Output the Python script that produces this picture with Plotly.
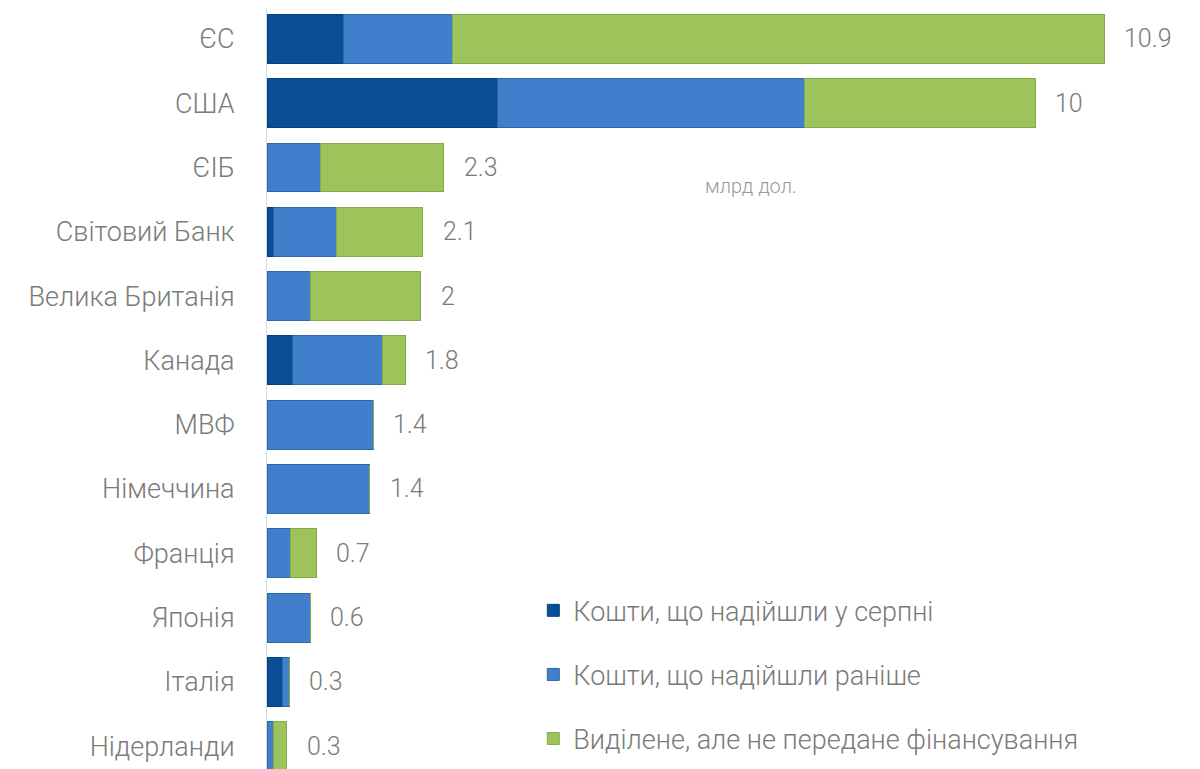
import plotly.graph_objects as go

# Donors, top to bottom
categories = ["ЄС", "США", "ЄІБ", "Світовий Банк", "Велика Британія", "Канада",
              "МВФ", "Німеччина", "Франція", "Японія", "Італія", "Нідерланди"]

# billions USD
august = [1.0, 3.0, 0, 0.09, 0, 0.33, 0, 0, 0, 0, 0.2, 0]
earlier = [1.42, 4.0, 0.69, 0.82, 0.56, 1.17, 1.38, 1.34, 0.3, 0.56, 0.09, 0.08]
pending = [8.48, 3.0, 1.61, 1.12, 1.44, 0.3, 0, 0, 0.34, 0, 0, 0.18]
total_labels = ["10.9", "10", "2.3", "2.1", "2", "1.8", "1.4", "1.4", "0.7", "0.6", "0.3", "0.3"]

series = [
    ("Кошти, що надійшли у серпні", august, "#0b4e98", "#083f7c"),
    ("Кошти, що надійшли раніше", earlier, "#3f7fcc", "#2f66a8"),
    ("Виділене, але не передане фінансування", pending, "#9cc45b", "#84ad47"),
]

FONT = "Roboto"
GREY = "#7a7a7a"

fig = go.Figure()
for i, (name, vals, col, edge) in enumerate(series):
    fig.add_trace(go.Bar(
        y=categories, x=vals, name=name, orientation="h",
        marker=dict(color=col, line=dict(color=edge, width=1)),
        legendgroup=f"g{i}", hoverinfo="x+name",
    ))

# rounded totals printed right of each bar
totals = [a + b + c for a, b, c in zip(august, earlier, pending)]
for cat, tot, lab in zip(categories, totals, total_labels):
    fig.add_annotation(x=tot, y=cat, text=lab, showarrow=False,
                       xanchor="left", xshift=18,
                       font=dict(family=FONT, size=25, color=GREY, weight=300))

fig.add_annotation(text="млрд дол.", xref="paper", yref="paper",
                   x=0.514, y=0.787, showarrow=False,
                   font=dict(family=FONT, size=20, color="#9a9a9a", weight=300))

fig.update_layout(
    width=1200, height=769,
    barmode="stack", bargap=0.24,
    plot_bgcolor="white", paper_bgcolor="white",
    margin=dict(l=259, r=0, t=0, b=0, autoexpand=False),
    font=dict(family=FONT, size=27, color=GREY, weight=300),
    xaxis=dict(range=[0, 12.25], visible=False),
    yaxis=dict(categoryorder="array", categoryarray=categories,
               range=[11.48, -0.482], showline=True, linecolor="#d9d9d9",
               linewidth=1, ticks="", ticklabelstandoff=26, automargin=False,
               tickfont=dict(family=FONT, size=27, color=GREY, weight=300)),
    legend=dict(x=0.283, y=0.248,
                xanchor="left", yanchor="top", traceorder="grouped",
                tracegroupgap=26, itemwidth=30,
                font=dict(family=FONT, size=27, color=GREY, weight=300),
                bgcolor="rgba(0,0,0,0)"),
    showlegend=True,
)

fig.write_html("out.html")
